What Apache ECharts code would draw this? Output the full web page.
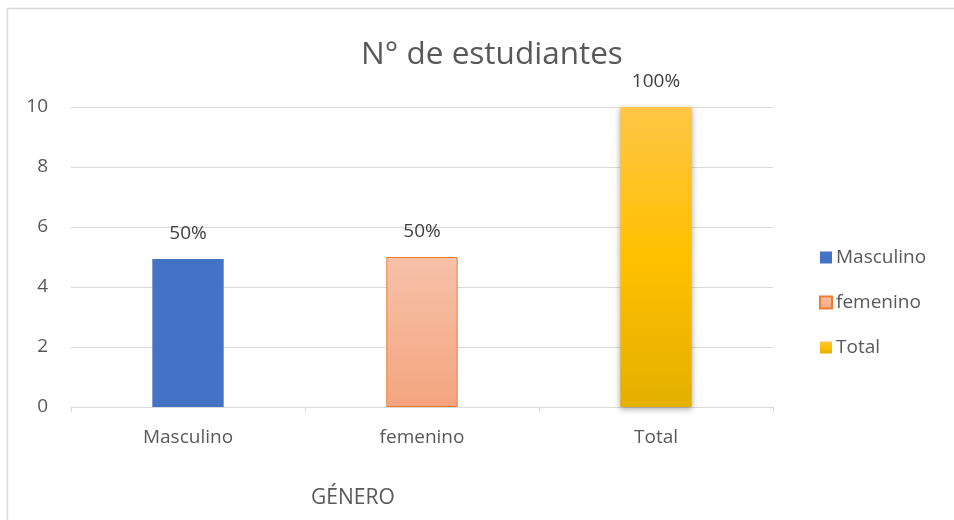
<!DOCTYPE html>
<html>
<head>
<meta charset="utf-8">
<script src="https://cdn.jsdelivr.net/npm/echarts@6/dist/echarts.min.js"></script>
<style>
  html, body { margin: 0; padding: 0; background: #fff; }
  #chart { width: 954px; height: 520px; }
</style>
</head>
<body>
<div id="chart"></div>
<script>
// datos
const categories = ['Masculino', 'femenino', 'Total'];
const seriesNames = ['Masculino', 'femenino', 'Total'];
const values = [4.93, 5, 10];
const pctLabels = ['50%', '50%', '100%'];
const yTicks = [0, 2, 4, 6, 8, 10];

const FONT = '"Open Sans", sans-serif';
const TXT = '#595959';

const fills = [
  '#4472C4',
  new echarts.graphic.LinearGradient(0, 0, 0, 1, [
    { offset: 0, color: '#F7C1A9' },
    { offset: 1, color: '#F4A57F' }
  ]),
  new echarts.graphic.LinearGradient(0, 0, 0, 1, [
    { offset: 0, color: '#FFC646' },
    { offset: 0.5, color: '#FFC000' },
    { offset: 1, color: '#E3B000' }
  ])
];
const borders = ['#4472C4', '#ED7D31', '#E3B000'];

const chart = echarts.init(document.getElementById('chart'), null, { renderer: 'canvas' });

const series = seriesNames.map((name, i) => ({
  name: name,
  type: 'bar',
  stack: 'g',
  barWidth: '30.5%',
  data: categories.map((c, j) => (j === i ? values[i] : '-')),
  itemStyle: {
    color: fills[i],
    borderColor: borders[i],
    borderWidth: i === 1 ? 1 : 0,
    shadowColor: i === 2 ? 'rgba(0,0,0,0.35)' : 'transparent',
    shadowBlur: i === 2 ? 6 : 0,
    shadowOffsetY: i === 2 ? 2 : 0
  },
  label: {
    show: true,
    position: 'top',
    distance: 16,
    color: '#404040',
    fontFamily: FONT,
    fontSize: 19,
    formatter: () => pctLabels[i]
  }
}));

chart.setOption({
  animation: false,
  backgroundColor: '#fff',
  title: {
    text: 'N° de estudiantes',
    left: 487,
    top: 34,
    textAlign: 'center',
    textStyle: { color: TXT, fontFamily: FONT, fontSize: 31.5, fontWeight: 'normal' }
  },
  legend: {
    orient: 'vertical',
    left: 814,
    top: 243,
    itemWidth: 12,
    itemHeight: 12,
    itemGap: 26,
    icon: 'rect',
    data: seriesNames,
    textStyle: { color: TXT, fontFamily: FONT, fontSize: 19, padding: [0, 0, 0, -1] }
  },
  grid: { left: 71, right: 181, top: 107, bottom: 113, containLabel: false },
  xAxis: {
    type: 'category',
    data: categories,
    axisLine: { lineStyle: { color: '#D9D9D9', width: 1 } },
    axisTick: { show: true, length: 5, lineStyle: { color: '#D9D9D9' } },
    axisLabel: { color: TXT, fontFamily: FONT, fontSize: 19, margin: 21 }
  },
  yAxis: {
    type: 'value',
    min: yTicks[0],
    max: yTicks[yTicks.length - 1],
    interval: 2,
    axisLine: { show: false },
    axisTick: { show: false },
    axisLabel: { color: TXT, fontFamily: FONT, fontSize: 19, margin: 23 },
    splitLine: { lineStyle: { color: '#D9D9D9', width: 1 } }
  },
  graphic: [
    {
      type: 'rect',
      shape: { x: 7.5, y: 8.5, width: 1000, height: 600 },
      style: { fill: 'none', stroke: '#D9D9D9', lineWidth: 1.5 },
      silent: true
    },
    {
      type: 'text',
      left: 311,
      top: 488,
      style: { text: 'GÉNERO', fill: TXT, font: '21px ' + FONT }
    }
  ],
  series: series
});
</script>
</body>
</html>
